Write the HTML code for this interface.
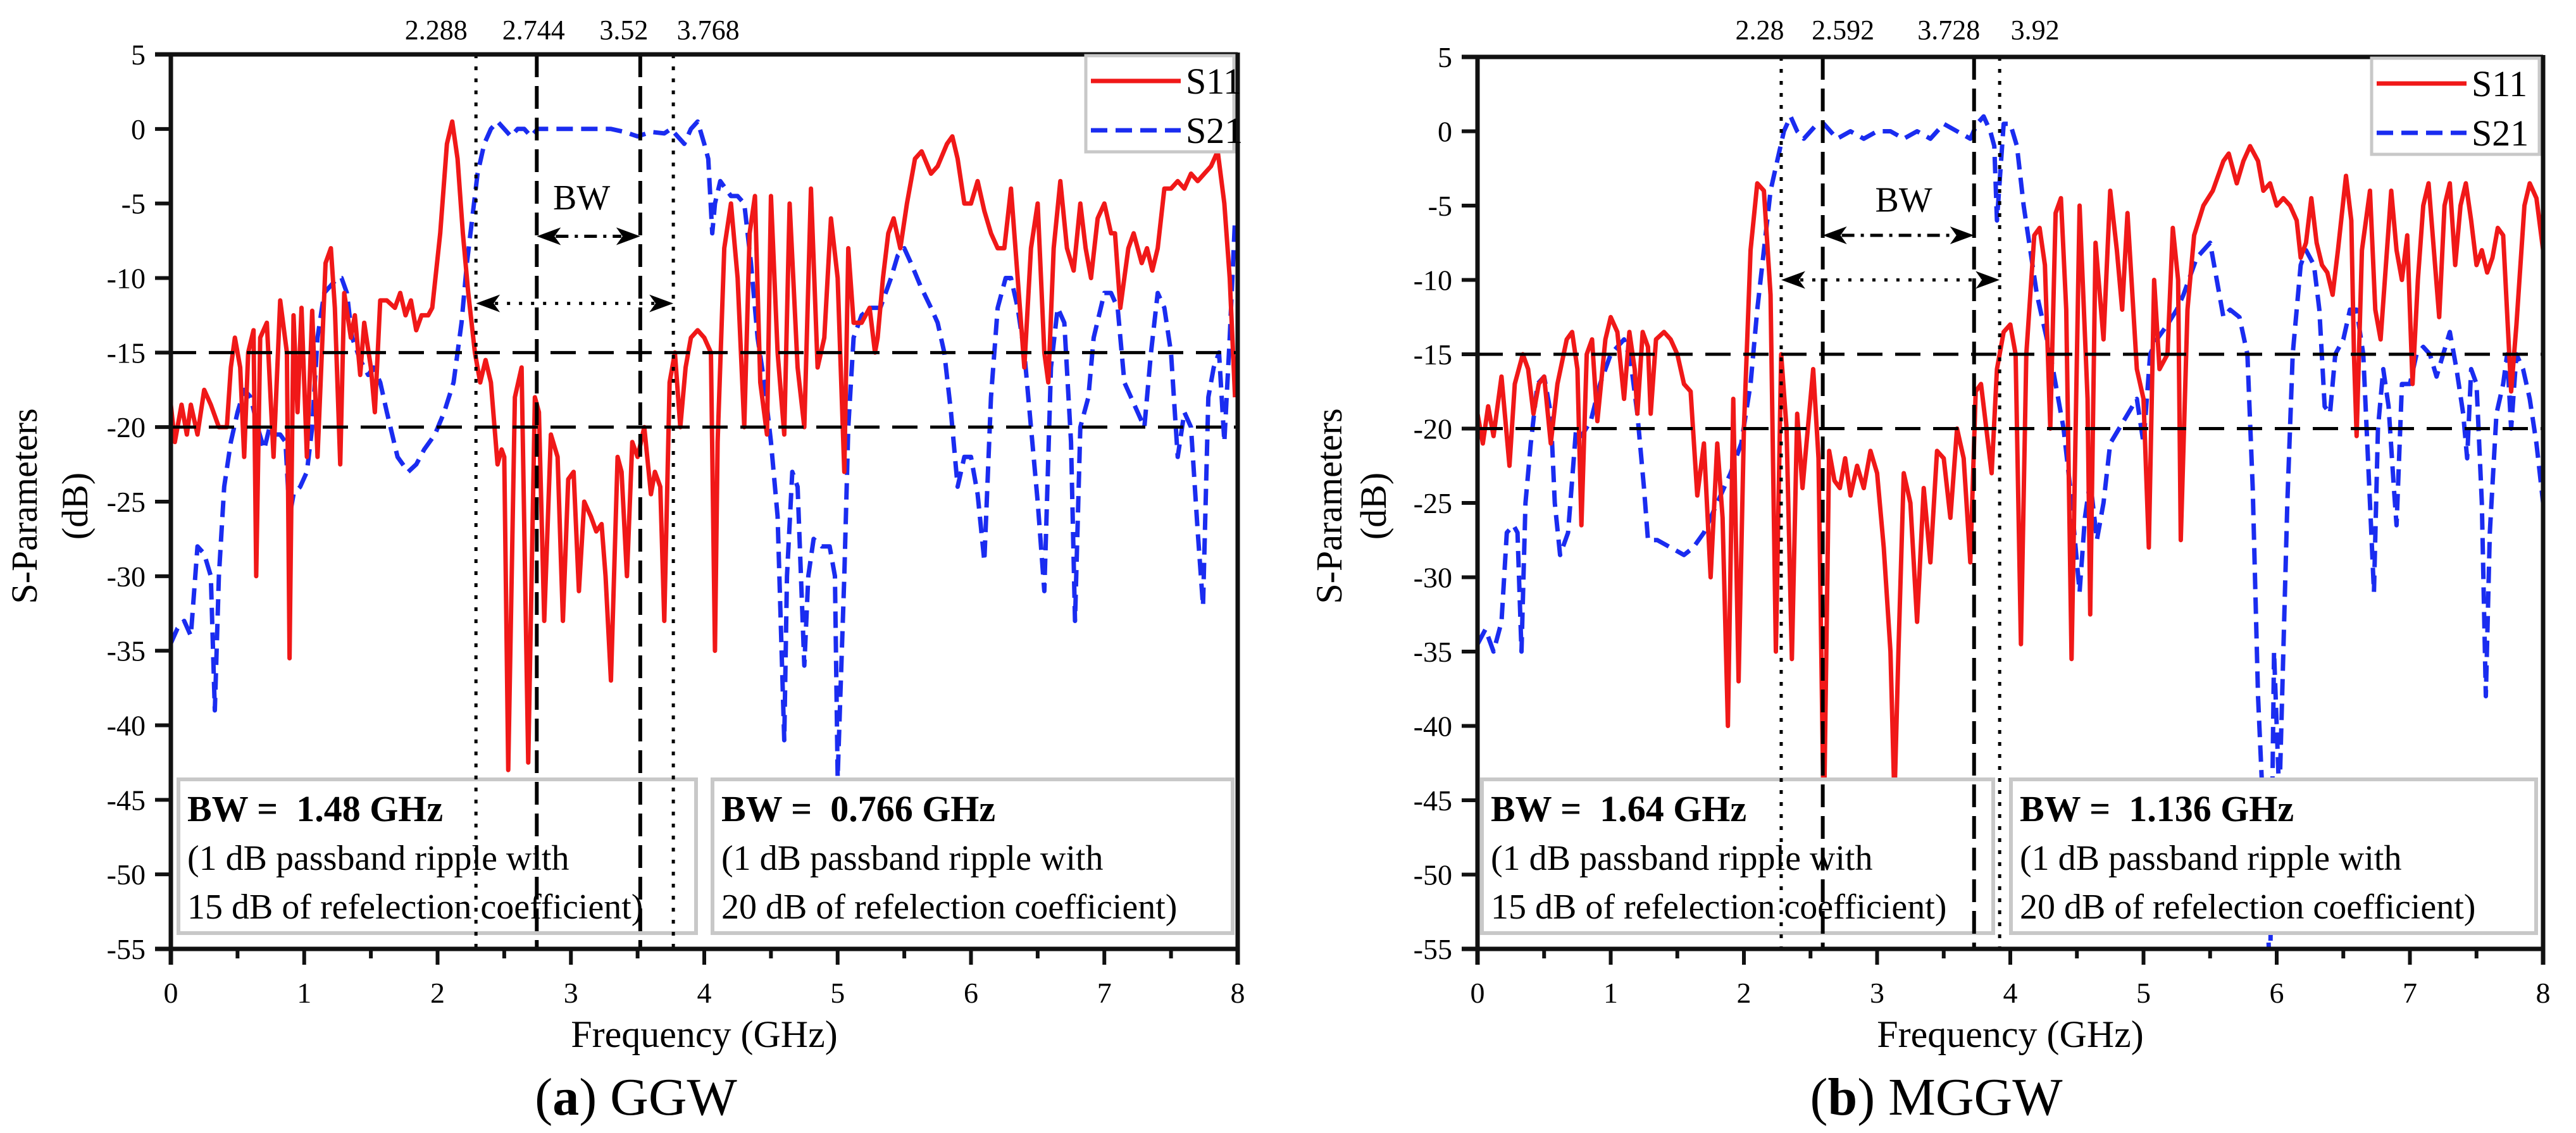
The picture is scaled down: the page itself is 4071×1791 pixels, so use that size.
<!DOCTYPE html>
<html><head><meta charset="utf-8">
<style>
html,body{margin:0;padding:0;background:#fff;}
svg{display:block;font-family:"Liberation Serif",serif;}
</style></head>
<body>
<svg id="fig" width="4071" height="1791" viewBox="0 0 4071 1791" xmlns="http://www.w3.org/2000/svg"></svg>
<script>
// ---------- data ----------
const xTicks=[0,1,2,3,4,5,6,7,8];
const yTicks=[5,0,-5,-10,-15,-20,-25,-30,-35,-40,-45,-50,-55];
const refLevels=[-15,-20];

const aMarkers=[2.288,2.744,3.52,3.768];
const aMarkerLabels=["2.288","2.744","3.52","3.768"];
const bMarkers=[2.28,2.592,3.728,3.92];
const bMarkerLabels=["2.28","2.592","3.728","3.92"];

const aS11F=[0,0.03,0.08,0.12,0.15,0.2,0.25,0.3,0.36,0.42,0.45,0.48,0.52,0.55,0.58,0.62,0.64,0.67,0.72,0.77,0.82,0.87,0.89,0.92,0.95,0.98,1.02,1.06,1.1,1.16,1.2,1.23,1.27,1.3,1.35,1.38,1.42,1.45,1.5,1.53,1.57,1.62,1.68,1.72,1.76,1.8,1.84,1.88,1.93,1.96,2.02,2.07,2.11,2.15,2.19,2.23,2.28,2.32,2.36,2.4,2.45,2.48,2.5,2.53,2.58,2.63,2.68,2.73,2.76,2.8,2.85,2.9,2.94,2.98,3.02,3.06,3.1,3.15,3.19,3.23,3.26,3.3,3.35,3.38,3.42,3.46,3.5,3.55,3.6,3.63,3.67,3.7,3.74,3.78,3.82,3.86,3.9,3.95,4.0,4.05,4.08,4.1,4.15,4.2,4.25,4.3,4.34,4.38,4.42,4.47,4.5,4.55,4.6,4.64,4.7,4.75,4.8,4.85,4.9,4.95,5.0,5.05,5.08,5.12,5.18,5.24,5.28,5.3,5.34,5.38,5.42,5.47,5.52,5.58,5.63,5.7,5.75,5.82,5.86,5.9,5.95,6.0,6.05,6.1,6.15,6.2,6.25,6.3,6.35,6.4,6.45,6.5,6.55,6.58,6.62,6.67,6.72,6.77,6.82,6.86,6.9,6.95,7.0,7.05,7.08,7.12,7.18,7.22,7.28,7.32,7.36,7.4,7.45,7.5,7.55,7.6,7.65,7.7,7.75,7.8,7.85,7.9,7.94,7.98];
const aS11D=[-18.5,-21,-18.5,-20.5,-18.5,-20.5,-17.5,-18.5,-20,-20,-16,-14,-16,-22,-15,-13.5,-30,-14,-13,-22,-11.5,-15,-35.5,-12.5,-19,-12,-22,-12.2,-22,-9,-8,-12,-22.5,-11,-14,-12.5,-16.5,-13,-16,-19,-11.5,-11.5,-12,-11,-12.5,-11.5,-13.5,-12.5,-12.5,-12,-7,-1,0.5,-2,-7,-11,-15,-17,-15.5,-17,-22.5,-21.5,-22,-43,-18,-16,-42.5,-18,-19,-33,-20.5,-22,-33,-23.5,-23,-31,-25,-26,-27,-26.5,-30,-37,-22,-23,-30,-21,-22,-20,-24.5,-23,-24,-33,-17,-15,-20,-16,-14,-13.5,-14,-15,-35,-21,-8,-5,-10,-20,-7,-4.5,-17,-20.5,-4.5,-15,-20.5,-5,-16,-20,-4,-16,-14,-6,-10,-23,-8,-13,-13,-12,-15,-14,-10,-7,-6,-8,-5,-2,-1.5,-3,-2.5,-1,-0.5,-2,-5,-5,-3.5,-5.5,-7,-8,-8,-4,-10,-16,-8,-5,-15,-17,-8,-3.5,-8,-9.5,-5,-8,-10,-6,-5,-7,-7,-12,-8,-7,-9,-8,-9.5,-8,-4,-4,-3.5,-4,-3,-3.5,-3,-2.5,-1.5,-5,-10,-18];

const aS21F=[0,0.05,0.1,0.15,0.2,0.25,0.3,0.33,0.36,0.4,0.45,0.5,0.55,0.6,0.65,0.7,0.74,0.78,0.82,0.86,0.89,0.92,0.97,1.02,1.06,1.1,1.15,1.2,1.25,1.28,1.32,1.36,1.42,1.48,1.52,1.57,1.62,1.7,1.78,1.84,1.9,1.98,2.05,2.12,2.18,2.22,2.26,2.3,2.35,2.4,2.45,2.5,2.55,2.6,2.65,2.7,2.75,2.8,2.9,3.0,3.1,3.2,3.3,3.4,3.5,3.6,3.7,3.75,3.8,3.85,3.9,3.95,4.0,4.03,4.06,4.08,4.12,4.16,4.2,4.25,4.3,4.35,4.4,4.45,4.5,4.55,4.6,4.62,4.66,4.7,4.75,4.78,4.82,4.88,4.94,4.98,5.0,5.05,5.08,5.12,5.18,5.25,5.32,5.4,5.45,5.5,5.55,5.62,5.7,5.75,5.8,5.85,5.9,5.95,6.0,6.05,6.1,6.15,6.2,6.26,6.3,6.35,6.4,6.45,6.5,6.55,6.6,6.65,6.7,6.75,6.78,6.82,6.88,6.92,7.0,7.05,7.1,7.15,7.2,7.25,7.3,7.35,7.4,7.45,7.5,7.55,7.6,7.65,7.7,7.74,7.78,7.82,7.86,7.9,7.94,7.98];
const aS21D=[-34.5,-33.5,-33,-34,-28,-28.5,-30,-39,-30,-24,-21,-19,-17.5,-18,-20,-21.5,-20,-20.5,-20.5,-21,-26,-24.5,-24,-23,-20,-14,-11,-10.5,-10,-10,-11,-14,-15.5,-16.5,-16,-17,-19,-22,-23,-22.5,-21.5,-20.5,-19,-17,-13,-9,-6,-3,-1,0,0.5,0,-0.5,0,0,-0.5,0,0,0,0,0,0,0,-0.2,-0.5,-0.2,-0.3,0,-0.5,-1,0,0.5,-1,-2,-7,-5,-3.5,-4,-4.5,-4.5,-5,-9,-14,-17,-21,-26,-41,-30,-23,-24,-36,-30,-27.5,-28,-28,-30,-43.5,-30,-20,-14,-12.5,-12,-12,-10,-8.5,-8,-9,-10.5,-12,-13,-15,-19,-24,-22,-22,-24.5,-29,-18,-12,-10,-10,-12,-15,-20,-25,-31,-16,-12,-13,-21,-33,-20,-18,-14,-11,-11,-12,-17,-18,-19,-20,-15,-11,-12,-15,-22,-19,-20,-27,-32,-18,-16,-15,-21,-14,-6];

const bS11F=[0,0.04,0.08,0.12,0.18,0.24,0.28,0.34,0.38,0.42,0.46,0.5,0.55,0.6,0.67,0.71,0.75,0.78,0.82,0.86,0.9,0.96,1.0,1.05,1.1,1.14,1.18,1.2,1.24,1.28,1.3,1.34,1.4,1.45,1.5,1.55,1.6,1.65,1.7,1.75,1.8,1.84,1.88,1.92,1.96,2.0,2.05,2.1,2.15,2.2,2.24,2.28,2.32,2.36,2.4,2.44,2.48,2.52,2.56,2.6,2.64,2.68,2.72,2.76,2.8,2.85,2.9,2.95,3.0,3.05,3.1,3.13,3.16,3.2,3.25,3.3,3.35,3.4,3.45,3.5,3.55,3.6,3.65,3.7,3.74,3.78,3.82,3.86,3.9,3.95,4.0,4.04,4.08,4.12,4.18,4.22,4.26,4.3,4.34,4.38,4.42,4.46,4.52,4.58,4.6,4.64,4.7,4.75,4.8,4.84,4.88,4.95,5.0,5.04,5.08,5.12,5.18,5.22,5.26,5.28,5.33,5.38,5.45,5.52,5.6,5.64,5.7,5.75,5.8,5.86,5.9,5.95,6.0,6.05,6.1,6.15,6.18,6.22,6.26,6.3,6.34,6.38,6.42,6.46,6.52,6.56,6.58,6.6,6.64,6.7,6.74,6.78,6.82,6.86,6.9,6.94,6.98,7.02,7.06,7.1,7.14,7.18,7.22,7.26,7.3,7.34,7.38,7.42,7.46,7.5,7.54,7.58,7.62,7.66,7.7,7.76,7.8,7.86,7.9,7.95,8.0];
const bS11D=[-19,-21,-18.5,-20.5,-16.5,-22.5,-17,-15,-16,-19,-17,-16.5,-21,-17,-14,-13.5,-16,-26.5,-15,-14,-19.5,-14,-12.5,-13.5,-18,-13.5,-16,-19,-13.5,-14.5,-19,-14,-13.5,-14,-15,-17,-17.5,-24.5,-21,-30,-21,-26,-40,-18,-37,-20,-8,-3.5,-4,-11,-35,-15,-20,-35.5,-19,-24,-20,-16,-22,-47,-21.5,-23.5,-24,-22,-24.5,-22.5,-24,-21.5,-23,-28,-35,-45,-35,-23,-25,-33,-24,-29,-21.5,-22,-26,-20,-22,-29,-17.5,-17,-20,-23,-16,-13.5,-13,-15,-34.5,-15,-7,-6.5,-9,-20,-5.5,-4.5,-12,-35.5,-5,-18,-32.5,-7.5,-14,-4,-8,-12,-5.5,-16,-18,-28,-10,-16,-15,-6.5,-10,-27.5,-12,-7,-5,-4,-2,-1.5,-3.5,-2,-1,-2,-4,-3.5,-5,-4.5,-5,-6,-8.5,-7.5,-4.5,-7.5,-9,-9.5,-11,-8,-3,-6,-15,-20.5,-8,-4,-12,-14,-9,-4,-8,-10,-7,-17,-10,-5,-3.5,-8,-12.5,-5,-3.5,-9,-5,-3.5,-6,-9,-8,-9.5,-8.5,-6.5,-7,-17.5,-13,-5,-3.5,-4.5,-8];

const bS21F=[0,0.06,0.12,0.18,0.22,0.27,0.3,0.33,0.36,0.4,0.45,0.5,0.55,0.58,0.62,0.68,0.74,0.78,0.85,0.92,1.0,1.05,1.1,1.15,1.2,1.25,1.28,1.35,1.45,1.55,1.62,1.7,1.8,1.9,1.98,2.05,2.1,2.15,2.2,2.25,2.3,2.35,2.4,2.45,2.5,2.55,2.6,2.7,2.8,2.9,3.0,3.1,3.2,3.3,3.4,3.5,3.6,3.7,3.75,3.8,3.85,3.88,3.9,3.95,4.0,4.05,4.1,4.15,4.2,4.3,4.4,4.45,4.5,4.52,4.56,4.6,4.65,4.7,4.75,4.85,4.95,5.0,5.05,5.1,5.18,5.25,5.3,5.4,5.5,5.55,5.6,5.65,5.72,5.78,5.82,5.86,5.9,5.95,5.98,6.02,6.05,6.08,6.12,6.18,6.22,6.28,6.32,6.36,6.4,6.44,6.5,6.55,6.6,6.65,6.7,6.73,6.76,6.8,6.84,6.88,6.9,6.94,7.0,7.05,7.1,7.15,7.2,7.25,7.3,7.35,7.4,7.43,7.46,7.5,7.54,7.57,7.6,7.65,7.7,7.73,7.76,7.8,7.85,7.9,7.95,8.0];
const bS21D=[-34.5,-33.5,-35,-33,-27,-26.5,-27,-35,-25,-21,-17,-16.5,-19,-25,-28.5,-27,-20,-20.5,-19.5,-17,-15,-14.5,-14,-15.5,-19,-24,-27.5,-27.5,-28,-28.5,-28,-27,-25,-23,-21,-17,-12,-8,-4,-2,0,1,0,-0.5,0,0.5,0.5,-0.5,0,-0.5,0,0,-0.5,0,-0.5,0.5,0,-0.5,0.5,1,0,-1,-6,0.5,0.5,-1,-5,-8,-11,-15,-20,-24,-29,-31,-26,-23.5,-27.5,-25,-21,-19.5,-18,-21,-15,-14,-13,-12,-11,-8.5,-7.5,-10,-12.5,-12,-12.5,-15,-24,-38,-46,-57,-35,-45,-35,-25,-15,-9,-8,-9,-12,-18.5,-19,-15,-14,-12,-12,-15,-25,-31,-20,-16,-18.5,-24,-26.5,-17,-17,-15,-14.5,-15,-16.5,-15,-13.5,-16,-19,-22,-16,-17,-25,-38,-27,-19,-17,-15,-20,-15,-16,-18,-21,-25];

// ---------- drawing ----------
const NS="http://www.w3.org/2000/svg";
const svg=document.getElementById('fig');
function mk(tag,attrs,parent,text){
  const e=document.createElementNS(NS,tag);
  for(const k in attrs)e.setAttribute(k,attrs[k]);
  if(text!==undefined)e.textContent=text;
  (parent||svg).appendChild(e);return e;
}

function drawPanel(p){
  const g=mk('g',{});
  
  
  const X=v=>p.x0+(v-0)/8*(p.x1-p.x0);
  const Y=v=>p.yT+(5-v)/60*(p.yB-p.yT);
  const clipId='clip-'+p.id;
  const cp=mk('clipPath',{id:clipId},g);
  mk('rect',{x:p.x0,y:p.yT,width:p.x1-p.x0,height:p.yB-p.yT},cp);

  function series(F,D,attrs,name){
    let d='';
    F.forEach((f,i)=>{d+=(i?'L':'M')+X(f).toFixed(1)+' '+Y(D[i]).toFixed(1);});
    const pth=mk('path',Object.assign({d:d,fill:'none','clip-path':'url(#'+clipId+')','stroke-linejoin':'round'},attrs),g);
    
    
  }
  series(p.s21F,p.s21D,{stroke:'#1a2cf0','stroke-width':7,'stroke-dasharray':'26 13'},'s21-curve');
  series(p.s11F,p.s11D,{stroke:'#f01818','stroke-width':7},'s11-curve');

  refLevels.forEach(v=>{
    const l=mk('line',{x1:p.x0,x2:p.x1,y1:Y(v),y2:Y(v),stroke:'#000','stroke-width':5,'stroke-dasharray':'40 20'},g);
    
    
  });

  p.boxes.forEach((b,i)=>{
    const bg=mk('g',{},g);
    
    
    mk('rect',{x:b.x,y:1232,width:b.w,height:243,fill:'#fff',stroke:'#c8c8c8','stroke-width':6},bg);
    mk('text',{x:b.x+14,y:1298,'font-size':58,'font-weight':'bold'},bg,b.t1);
    mk('text',{x:b.x+14,y:1375,'font-size':56},bg,'(1 dB passband ripple with');
    mk('text',{x:b.x+14,y:1452,'font-size':56},bg,b.t3);
  });

  p.markers.forEach((m,i)=>{
    const dotted=(i===0||i===3);
    const l=mk('line',{x1:X(m),x2:X(m),y1:p.yT,y2:p.yB,stroke:'#000','stroke-width':dotted?5:6,'stroke-dasharray':dotted?'6 13':'36 14'},g);
    
    
    const t=mk('text',{x:X(m)+p.labelShift[i],y:62,'font-size':44,'text-anchor':'middle'},g,p.markerLabels[i]);
    
    
  });

  function arrow(a,b,yv,dash,name){
    const ag=mk('g',{},g);
    
    
    const xa=X(a),xb=X(b),y=Y(yv);
    mk('line',{x1:xa+30,x2:xb-30,y1:y,y2:y,stroke:'#000','stroke-width':5,'stroke-dasharray':dash},ag);
    mk('path',{d:`M${xa} ${y} L${xa+38} ${y-14} L${xa+28} ${y} L${xa+38} ${y+14}Z`,fill:'#000'},ag);
    mk('path',{d:`M${xb} ${y} L${xb-38} ${y-14} L${xb-28} ${y} L${xb-38} ${y+14}Z`,fill:'#000'},ag);
  }
  arrow(p.markers[1],p.markers[2],p.bwArrowY,'20 10 5 10','bw-arrow-passband');
  arrow(p.markers[0],p.markers[3],p.bwArrow2Y,'5 14','bw-arrow-reflection');
  const bwt=mk('text',{x:X(p.bwTextX),y:Y(p.bwTextY),'font-size':56,'text-anchor':'middle'},g,'BW');
  
  

  const ax=mk('g',{},g);
  
  
  mk('line',{x1:p.x0-25,x2:p.x1,y1:p.yT,y2:p.yT,stroke:'#111','stroke-width':7},ax);
  mk('line',{x1:p.x0-25,x2:p.x1+3,y1:p.yB,y2:p.yB,stroke:'#111','stroke-width':7},ax);
  mk('line',{x1:p.x0,x2:p.x0,y1:p.yT-3,y2:p.yB+25,stroke:'#111','stroke-width':7},ax);
  mk('line',{x1:p.x1,x2:p.x1,y1:p.yT-3,y2:p.yB+25,stroke:'#111','stroke-width':7},ax);

  yTicks.forEach(v=>{
    mk('line',{x1:p.x0-25,x2:p.x0,y1:Y(v),y2:Y(v),stroke:'#111','stroke-width':6},ax);
    const t=mk('text',{x:p.x0-40,y:Y(v)+16,'font-size':46,'text-anchor':'end'},ax,String(v));
    
    
  });
  xTicks.forEach(v=>{
    mk('line',{x1:X(v),x2:X(v),y1:p.yB,y2:p.yB+25,stroke:'#111','stroke-width':6},ax);
    if(v<8)mk('line',{x1:X(v+0.5),x2:X(v+0.5),y1:p.yB,y2:p.yB+15,stroke:'#111','stroke-width':6},ax);
    const t=mk('text',{x:X(v),y:1585,'font-size':46,'text-anchor':'middle'},ax,String(v));
    
    
  });

  const xt=mk('text',{x:(p.x0+p.x1)/2,y:1655,'font-size':60,'text-anchor':'middle'},g,'Frequency (GHz)');
  
  
  const yt=mk('text',{x:0,y:0,'font-size':58,'text-anchor':'middle',transform:`translate(${p.ytx},800) rotate(-90)`},g);
  
  
  mk('tspan',{x:0,dy:0},yt,'S-Parameters');
  mk('tspan',{x:0,dy:p.ytGap},yt,'(dB)');

  const lg=mk('g',{},g);
  
  
  mk('rect',{x:p.legX,y:p.yT+2,width:p.x1-p.legX-6,height:152,fill:'#fff',stroke:'#c8c8c8','stroke-width':5},lg);
  mk('line',{x1:p.legX+8,x2:p.legX+150,y1:p.yT+42,y2:p.yT+42,stroke:'#f01818','stroke-width':7},lg);
  mk('text',{x:p.legX+158,y:p.yT+62,'font-size':58},lg,'S11');
  mk('line',{x1:p.legX+8,x2:p.legX+150,y1:p.yT+120,y2:p.yT+120,stroke:'#1a2cf0','stroke-width':7,'stroke-dasharray':'26 13'},lg);
  mk('text',{x:p.legX+158,y:p.yT+140,'font-size':58},lg,'S21');

  const cap=mk('text',{x:p.capX,y:1762,'font-size':84,'text-anchor':'middle'},g);
  
  
  mk('tspan',{},cap,'(');
  mk('tspan',{'font-weight':'bold'},cap,p.letter);
  mk('tspan',{},cap,') '+p.title);
}

drawPanel({id:'ggw',x0:270,x1:1956,yT:86,yB:1500,
  s11F:aS11F,s11D:aS11D,s21F:aS21F,s21D:aS21D,
  markers:aMarkers,markerLabels:aMarkerLabels,labelShift:[-63,-5,-26,55],
  bwArrowY:-7.2,bwArrow2Y:-11.7,bwTextX:3.08,bwTextY:-5.4,
  boxes:[{x:282,w:818,t1:'BW =\u00a0 1.48 GHz',t3:'15 dB of refelection coefficient)'},
         {x:1126,w:822,t1:'BW =\u00a0 0.766 GHz',t3:'20 dB of refelection coefficient)'}],
  ytx:58,ytGap:80,legX:1716,capX:1005,letter:'a',title:'GGW'});

drawPanel({id:'mggw',x0:2335,x1:4019,yT:90,yB:1500,
  s11F:bS11F,s11D:bS11D,s21F:bS21F,s21D:bS21D,
  markers:bMarkers,markerLabels:bMarkerLabels,labelShift:[-34,32,-40,56],
  bwArrowY:-7,bwArrow2Y:-10,bwTextX:3.2,bwTextY:-5.4,
  boxes:[{x:2342,w:808,t1:'BW =\u00a0 1.64 GHz',t3:'15 dB of refelection coefficient)'},
         {x:3178,w:830,t1:'BW =\u00a0 1.136 GHz',t3:'20 dB of refelection coefficient)'}],
  ytx:2120,ytGap:70,legX:3748,capX:3060,letter:'b',title:'MGGW'});
</script>
</body></html>
